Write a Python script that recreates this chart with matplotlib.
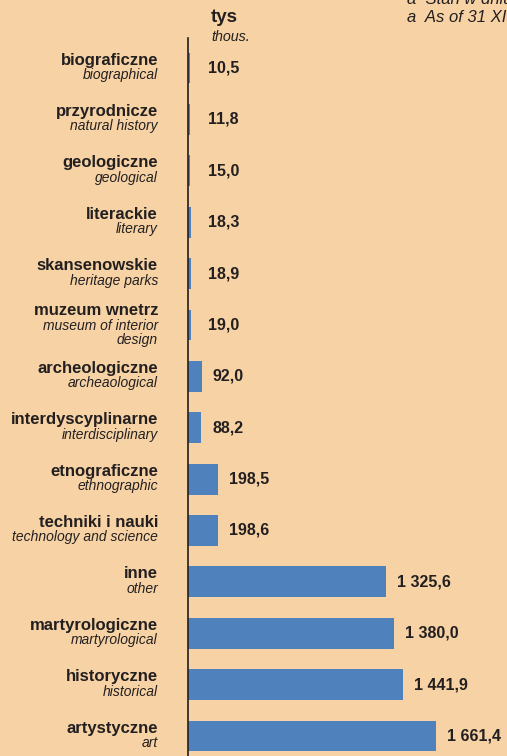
import matplotlib
matplotlib.use("Agg")
import matplotlib.pyplot as plt
import matplotlib.transforms as mtransforms

pl_labels = ["biograficzne", "przyrodnicze", "geologiczne", "literackie", "skansenowskie",
             "muzeum wnetrz", "archeologiczne", "interdyscyplinarne", "etnograficzne",
             "techniki i nauki", "inne", "martyrologiczne", "historyczne", "artystyczne"]
en_labels = ["biographical", "natural history", "geological", "literary", "heritage parks",
             "museum of interior\ndesign", "archeaological", "interdisciplinary", "ethnographic",
             "technology and science", "other", "martyrological", "historical", "art"]
values = [10.5, 11.8, 15.0, 18.3, 18.9, 19.0, 92.0, 88.2, 198.5, 198.6,
          1325.6, 1380.0, 1441.9, 1661.4]
value_text = ["10,5", "11,8", "15,0", "18,3", "18,9", "19,0", "92,0", "88,2", "198,5", "198,6",
              "1 325,6", "1 380,0", "1 441,9", "1 661,4"]

BG = "#F6D2A4"
BAR = "#4F81BD"
TXT = "#231F20"
plt.rcParams['font.family'] = ['Liberation Sans', 'DejaVu Sans']

W, H = 507, 756
fig = plt.figure(figsize=(W / 100, H / 100), dpi=100, facecolor=BG)
ax = fig.add_axes([188 / W, 0, 1 - 188 / W, (756 - 38) / H])
ax.set_facecolor(BG)

y = list(range(len(values)))
ax.barh(y, values, height=0.6, color=BAR, left=0)
ax.set_ylim(13.389, -0.584)
ax.set_xlim(0, 2137)
for s in ["top", "right", "bottom"]:
    ax.spines[s].set_visible(False)
ax.spines["left"].set_color(TXT)
ax.spines["left"].set_linewidth(1.2)
ax.set_xticks([])
ax.set_yticks([])

min_label_x = 60
for yi, v, t in zip(y, values, value_text):
    ax.annotate(t, (max(v, min_label_x), yi), xytext=(8, 0), textcoords="offset points",
                ha="left", va="center", fontsize=11.5, fontweight="bold", color=TXT)

blend = mtransforms.blended_transform_factory(fig.transFigure, ax.transData)
for yi, pl, en in zip(y, pl_labels, en_labels):
    extra = en.count("\n")
    t1 = blend + mtransforms.ScaledTranslation(0, (8 + extra * 6) / 100, fig.dpi_scale_trans)
    t2 = blend + mtransforms.ScaledTranslation(0, (0 + extra * 6) / 100, fig.dpi_scale_trans)
    fig.text(158 / W, yi, pl, transform=t1, ha="right", va="center",
             fontsize=12, fontweight="bold", color=TXT)
    fig.text(158 / W, yi, en, transform=t2, ha="right", va="top",
             fontsize=10, fontstyle="italic", color=TXT, linespacing=1.05)

fig.text(211 / W, 1 - 18 / H, "tys", ha="left", va="center", fontsize=13.5,
         fontweight="bold", color=TXT)
fig.text(211 / W, 1 - 37 / H, "thous.", ha="left", va="center", fontsize=10.3,
         fontstyle="italic", color=TXT)
fig.text(407 / W, 1 + 1 / H, "a  Stan w dniu 31 XII", ha="left", va="center", fontsize=12,
         fontstyle="italic", color=TXT)
fig.text(407 / W, 1 - 17 / H, "a  As of 31 XII", ha="left", va="center", fontsize=12,
         fontstyle="italic", color=TXT)

fig.savefig("out.png", dpi=100, facecolor=BG)
